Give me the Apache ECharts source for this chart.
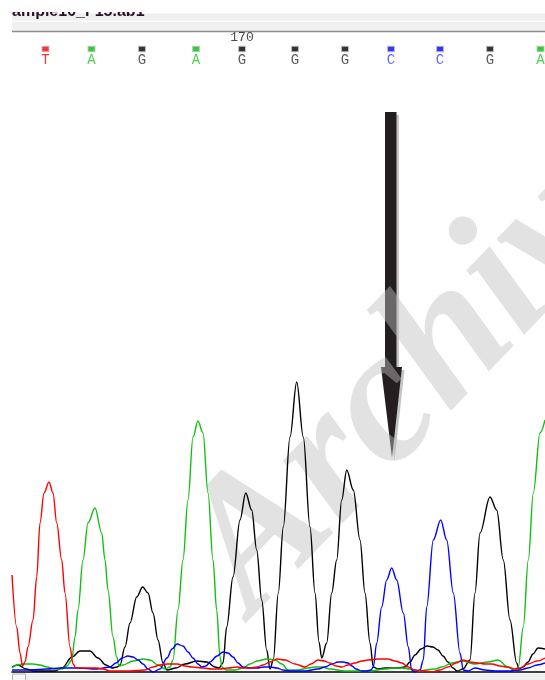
<!DOCTYPE html>
<html><head><meta charset="utf-8">
<script src="https://cdn.jsdelivr.net/npm/echarts@6/dist/echarts.min.js"></script>
<style>html,body{margin:0;padding:0;background:#fff}#c{width:545px;height:680px}</style>
</head><body><div id="c"></div>
<script>
// ---- data (x = scan position, y = signal) ----
const fileName = 'ample10_F15.ab1';
const baseCalls = ['T','A','G','A','G','G','G','C','C','G','A'];
const basePositions = [45.5, 91.5, 142, 196, 242, 295, 345, 391, 440, 490, 540.5];
const positionTickLabels = ['170'];
const positionTickAt = [242];

const traceT = [[12,97],[16.7,45],[20,19],[22.5,6],[25,10],[28,25],[33,52],[36.7,95],[40,149],[44,179],[49,190],[53,179],[56.7,149],[61.7,112],[65,79],[70,25],[73,8],[76,4],[85,4],[97,4],[103,3],[110,1],[130,1],[145,2],[153,5],[160,7],[167,8],[177,8],[185,6],[192,5],[203,4],[212,3],[220,3],[228,4],[237,5],[244,4],[250,4],[257,5],[263,7],[270,10],[277,13],[285,12],[295,8],[305,5],[311,8],[318,12],[324,11],[330,9],[336,6],[342,5],[348,7],[355,9],[362,11],[368,12],[378,13],[388,13],[395,11],[402,9],[408,5],[415,2],[425,1],[432,0],[440,2],[448,5],[456,9],[463,12],[470,10],[478,9],[485,8],[492,8],[500,6],[507,5],[515,3],[520,4],[528,8],[537,11],[545,14]];

const traceA = [[12,4],[17,7],[23,8],[33,8],[40,7],[47,5],[55,3],[62,3],[67,6],[71.7,12],[75,35],[78,62],[83,112],[88,149],[95,164],[101.7,139],[105,112],[108,82],[113,35],[116.7,15],[119,6],[123,7],[133,11],[143,13],[150,12],[158,7],[165,3],[170,5],[173,12],[178,62],[183,112],[188,172],[193,235],[198,251],[203,239],[208,179],[213,112],[216.7,62],[220,15],[222,5],[226,2],[235,2],[243,4],[250,8],[257,11],[267,13],[275,12],[282,8],[288,2],[298,2],[308,4],[315,5],[322,5],[330,3],[345,1],[370,1],[385,3],[395,4],[402,4],[410,3],[418,1],[435,3],[442,5],[452,9],[462,11],[475,8],[488,10],[498,12],[508,5],[515,1],[518.3,5],[523.3,45],[528.3,112],[533.3,179],[540,239],[545,252]];

const traceC = [[12,2],[30,2],[47,3],[60,4],[77,4],[97,3],[110,5],[116,9],[122,14],[128,16],[133,15],[138,12],[143,8],[148,3],[153,0],[160,3],[167,14],[172,23],[177,28],[183,26],[188,20],[193,14],[198,8],[202,5],[206,6],[210,10],[217,16],[223,20],[228,19],[233,15],[238,9],[243,5],[250,4],[257,4],[264,5],[270,5],[277,4],[283,2],[290,1],[305,1],[318,3],[325,5],[332,8],[338,10],[343,10],[348,9],[352,6],[356,3],[362,1],[367,1],[371,2],[373.3,5],[376.7,29],[381.7,65],[386.7,92],[391.7,104],[396.7,92],[403.3,59],[408.3,25],[411.7,2],[415,0],[420,2],[423.3,12],[426.7,65],[433.3,132],[440.7,152],[446.7,132],[453.3,79],[460,19],[463.3,2],[468,1],[475,4],[485,2],[495,1],[510,1],[520,2],[528,4],[537,7],[545,9]];

const traceG = [[12,5],[18,7],[26,3],[34,1],[55,1],[62,4],[72,15],[80,21],[90,21],[98,14],[106,7],[112,4],[117,5],[120,7],[125,25],[130,49],[136.7,75],[142.7,85],[148,79],[153,59],[158,32],[163,9],[167,2],[176,4],[185,8],[197,11],[207,10],[215,5],[219,4],[223,9],[226.7,45],[233,95],[240,152],[245.7,179],[251.7,162],[256.7,122],[261.7,72],[266.7,22],[270,3],[273.3,12],[278.3,79],[283.3,145],[290,235],[296.7,290],[303.3,235],[310,145],[315,79],[319,30],[321.7,14],[326.7,29],[331.7,79],[336.7,112],[341.7,172],[346.7,202],[353.3,182],[360,132],[365,79],[370,29],[373.3,5],[378,3],[385,4],[398,4],[405,5],[410,10],[415,17],[421,23],[427,26],[433,25],[438,22],[443,16],[448,10],[453,4],[457,1],[463,3],[470,12],[475,79],[480,139],[490,175],[496.7,162],[503.3,112],[510,52],[516.7,9],[519,3],[523,5],[528,10],[533,18],[538,24],[545,23]];

// ---- styling ----
const lineColor = {A:'#10c010', C:'#0000ff', G:'#000000', T:'#ff0000'};
const letterColor = {A:'#22c422', C:'#3c3cff', G:'#333333', T:'#ff0000'};
const squareColor = {A:'#00c000', C:'#0000ff', G:'#000000', T:'#ff0000'};

const chart = echarts.init(document.getElementById('c'), null, {renderer:'canvas'});

function traceSeries(data, base){
  return {type:'line', data, showSymbol:false, symbol:'none', smooth:0.35, smoothMonotone:'x',
    lineStyle:{width:1.4, color:lineColor[base]}, z:5, silent:true, animation:false};
}

const SQUARE_Y = 623, LETTER_Y = 612, TICK_Y = 634;

const arrowPts = [[385,112],[396.5,112],[396.5,367],[402,367],[392,458],[381,367],[385,367]];

chart.setOption({
  animation:false,
  grid:{left:12, right:0, top:32, bottom:8},
  xAxis:{type:'value', min:12, max:545, axisLine:{show:true, onZero:false, lineStyle:{color:'#000', width:1.6}},
    axisTick:{show:false}, axisLabel:{show:false}, splitLine:{show:false}},
  yAxis:{type:'value', min:0, max:640, show:false, splitLine:{show:false}},
  graphic:[
    {type:'rect', z:0, shape:{x:12, y:13.3, width:533, height:7.4}, style:{fill:'#f0f0f0'}},
    {type:'rect', z:0, shape:{x:12, y:21.7, width:533, height:9}, style:{fill:'#f0f0f0'}},
    {type:'rect', z:0, shape:{x:12, y:30.7, width:533, height:1.6}, style:{fill:'#8c8c8c'}},
    {type:'text', z:1, x:12, y:20, style:{text:fileName, font:'bold 16px "Liberation Sans"', fill:'#2b102b', textVerticalAlign:'bottom'}},
    {type:'rect', z:2, shape:{x:0, y:0, width:545, height:12}, style:{fill:'#ffffff'}},
    {type:'rect', z:0, shape:{x:12, y:673.3, width:533, height:7}, style:{fill:'#f0f0f0'}},
    {type:'rect', z:0, shape:{x:12.5, y:674, width:13, height:7}, style:{fill:'#f8f8f8', stroke:'#b4b4b4', lineWidth:1}},
    {type:'polygon', z:1, x:2.5, y:3, shape:{points:arrowPts}, style:{fill:'rgba(110,110,110,0.4)'}},
    {type:'polygon', z:1, shape:{points:arrowPts}, style:{fill:'#231f20'}},
    {type:'text', z:3, x:285, y:648, rotation:46*Math.PI/180,
      style:{text:'Archives', font:'italic bold 188px "Liberation Serif"', fill:'rgba(190,190,190,0.45)', textAlign:'left', textVerticalAlign:'bottom'}}
  ],
  series:[
    traceSeries(traceG,'G'),
    traceSeries(traceA,'A'),
    traceSeries(traceC,'C'),
    traceSeries(traceT,'T'),
    {type:'scatter', symbol:'rect', symbolSize:[7,5.5], z:6, silent:true,
      data: basePositions.map((x,i)=>({value:[x,SQUARE_Y], itemStyle:{color:squareColor[baseCalls[i]], borderColor:'#c4c4c4', borderWidth:1}}))},
    {type:'scatter', symbolSize:0, z:6, silent:true,
      data: basePositions.map((x,i)=>({value:[x,LETTER_Y], label:{show:true, position:'inside', formatter:baseCalls[i], color:letterColor[baseCalls[i]], fontFamily:'Liberation Mono', fontSize:14}}))},
    {type:'scatter', symbolSize:0, z:6, silent:true,
      data: positionTickAt.map((x,i)=>({value:[x,TICK_Y], label:{show:true, position:'inside', formatter:positionTickLabels[i], color:'#222', fontFamily:'Liberation Mono', fontSize:13}}))}
  ]
});
</script></body></html>
